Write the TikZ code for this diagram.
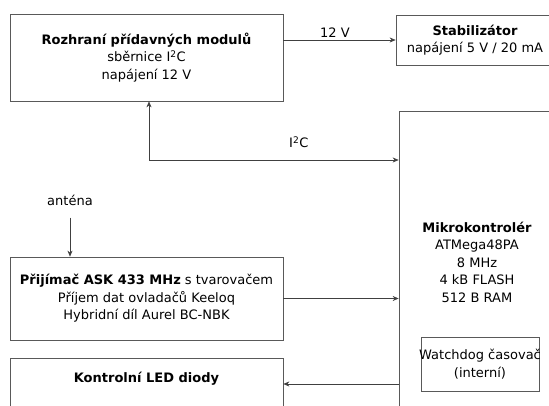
\documentclass[tikz,border=0pt]{standalone}
\usepackage{fontspec}
\setmainfont{DejaVu Sans}
\usetikzlibrary{arrows.meta}

\begin{document}
\begin{tikzpicture}[x=1pt,y=-1pt,line width=0.6pt,>={Stealth[length=6pt,width=5pt]},
  blok/.style={draw=black!65,line width=0.7pt,align=center,font=\fontsize{13}{17.5}\selectfont,inner sep=0pt},
  popis/.style={font=\fontsize{13}{17.5}\selectfont,inner sep=1pt},
  spoj/.style={draw=black!75,->}]
\clip (0,0) rectangle (549,406);
% ---------- rozhrani + stabilizator ----------
\node[blok,minimum width=273,minimum height=87] (rozhrani) at (146.5,57.5)
  {\textbf{Rozhraní přídavných modulů}\\sběrnice I\textsuperscript{2}C\\napájení 12 V};
\node[blok,minimum width=158,minimum height=50] (stab) at (475,40)
  {\textbf{Stabilizátor}\\napájení 5 V / 20 mA};
\draw[spoj] (rozhrani.east |- stab.west) -- node[popis,above=1pt,pos=0.46] {12 V} (stab.west);
% ---------- mikrokontroler (watchdog inside) ----------
\node[blok,minimum width=156,minimum height=302] (mikro) at (477,262)
  {\textbf{Mikrokontrolér}\\ATMega48PA\\8 MHz\\4 kB FLASH\\512 B RAM};
\node[blok,minimum width=118,minimum height=54,inner xsep=-6pt] (watchdog) at (480,364)
  {Watchdog časovač\\(interní)};
% I2C bus
\coordinate (ohyb) at (149,160);
\draw[spoj,<->] (rozhrani.south -| ohyb) -- (ohyb) -- node[popis,above=11pt,pos=0.6] {I\textsuperscript{2}C} (ohyb -| mikro.west);
% ---------- prijimac ----------
\node[popis] (antena) at (70,200) {anténa};
\node[blok,minimum width=273,minimum height=83] (prijimac) at (146.5,298.5)
  {\textbf{Přijímač ASK 433 MHz} s tvarovačem\\Příjem dat ovladačů Keeloq\\Hybridní díl Aurel BC-NBK};
\draw[spoj,shorten <=11pt] (antena.south) -- (antena.south |- prijimac.north);
\draw[spoj] (prijimac.east) -- (prijimac.east -| mikro.west);
% ---------- LED ----------
\node[blok,anchor=north,minimum width=273,text height=10pt,text depth=34pt,inner ysep=14pt] (led) at (146.5,358)
  {\textbf{Kontrolní LED diody}};
\coordinate (ledy) at (0,384);
\draw[spoj] (mikro.west |- ledy) -- (led.east |- ledy);
\end{tikzpicture}
\end{document}
